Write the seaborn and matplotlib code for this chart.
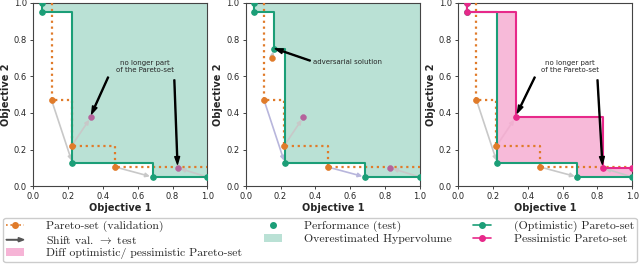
import numpy as np
import pandas as pd
import matplotlib
matplotlib.use('Agg')
import matplotlib.pyplot as plt
import matplotlib.patches as mpatches
from matplotlib.lines import Line2D
from matplotlib.legend_handler import HandlerPatch
import seaborn as sns

#-----------
# DATA
#-----------
# validation pareto-set (orange)
val_x = [0.105, 0.22, 0.47]
val_y = [0.47, 0.22, 0.105]
# same solutions on the test set
test_x = [0.225, 0.33, 0.685]
test_y = [0.125, 0.375, 0.05]
# boundary solutions (bottom-right)
edge_val = (1.0, 0.05)
edge_test = (0.83, 0.1)
# adversarial solution (middle panel)
adv_val = (0.15, 0.70)
adv_test = (0.16, 0.75)

# optimistic pareto-set on test
opt_x = [0.05, 0.05, 0.225, 0.685, 1.0]
opt_y = [1.0, 0.95, 0.125, 0.05, 0.05]
opt_adv_x = [0.05, 0.05, 0.16, 0.225, 0.685, 1.0]
opt_adv_y = [1.0, 0.95, 0.75, 0.125, 0.05, 0.05]
# pessimistic pareto-set on test
pes_x = [0.05, 0.05, 0.33, 0.83, 1.0]
pes_y = [1.0, 0.95, 0.375, 0.1, 0.1]

TEAL = '#1b9e77'
ORANGE = '#e07b2a'
PINK = '#e7298a'
GREY = '#c8c8c8'

#-----------
# HELPERS
#-----------
def _step_at(xs, ys, grid):
  idx = np.searchsorted(xs, grid, side='right') - 1
  idx = np.clip(idx, 0, len(ys) - 1)
  return np.asarray(ys)[idx]

def _val_step(ax):
  xs = [val_x[0]] + val_x + [1.0]
  ys = [1.0] + val_y + [val_y[-1]]
  sns.lineplot(x=xs, y=ys, ax=ax, estimator=None, sort=False, drawstyle='steps-post',
               color=ORANGE, linestyle=':', lw=1.6, zorder=3)
  sns.scatterplot(x=val_x, y=val_y, ax=ax, color=ORANGE, s=18, edgecolor=ORANGE, linewidth=0.5, zorder=6)

def _pareto(ax, xs, ys, color, z=4):
  sns.lineplot(x=xs, y=ys, ax=ax, estimator=None, sort=False, drawstyle='steps-post',
               color=color, lw=1.5, marker='o', markersize=4, markeredgecolor=color, zorder=z)

def _shift(ax, a, b, color=GREY):
  ax.annotate('', xy=b, xytext=a, arrowprops=dict(arrowstyle='-|>', color=color, lw=1.2,
              mutation_scale=6, shrinkA=0, shrinkB=2), zorder=2)

def _black_arrow(ax, tail, tip):
  ax.annotate('', xy=tip, xytext=tail, arrowprops=dict(facecolor='black', edgecolor='black',
              width=0.7, headwidth=3.5, headlength=5.5, shrink=0.0), zorder=8)

def _hv_fill(ax, xs, ys):
  grid = np.linspace(xs[0], 1.0, 2001)
  ax.fill_between(grid, _step_at(xs[1:], ys[1:], grid), 1.0, color=TEAL, alpha=0.3, lw=0, zorder=1)

def _shifts(ax, colors):
  for (vx, vy, tx, ty), c in zip(zip(val_x, val_y, test_x, test_y), colors):
    _shift(ax, (vx, vy), (tx, ty), c)
  _shift(ax, edge_val, edge_test)

class _ArrowHandler(HandlerPatch):
  def create_artists(self, legend, orig_handle, xdescent, ydescent, width, height, fontsize, trans):
    p = mpatches.FancyArrow(0, height / 2, width, 0, length_includes_head=True, width=0.3,
                            head_width=3, head_length=4, color='#555555', transform=trans)
    return [p]

#-----------
# PLOT
#-----------
sns.set_style('ticks')
plt.rcParams['mathtext.fontset'] = 'cm'
fig, axs = plt.subplots(1, 3, figsize=(6.4, 2.66), dpi=100)
fig.subplots_adjust(left=0.052, right=0.988, top=0.989, bottom=0.30, wspace=0.22)

mauve = '#b5639c'

# panel 1
ax = axs[0]
_hv_fill(ax, opt_x, opt_y)
_val_step(ax)
_shifts(ax, [GREY, GREY, GREY])
_pareto(ax, opt_x, opt_y, TEAL)
sns.scatterplot(x=[test_x[1], edge_test[0]], y=[test_y[1], edge_test[1]], ax=ax, color=mauve, s=18,
                edgecolor=mauve, zorder=6)
ax.text(0.64, 0.655, 'no longer part\nof the Pareto-set', fontsize=5, ha='center', va='center')
_black_arrow(ax, (0.43, 0.595), (0.335, 0.395))
_black_arrow(ax, (0.81, 0.58), (0.828, 0.12))

# panel 2
ax = axs[1]
_hv_fill(ax, opt_adv_x, opt_adv_y)
_val_step(ax)
sns.scatterplot(x=[adv_val[0]], y=[adv_val[1]], ax=ax, color=ORANGE, s=18, edgecolor=ORANGE, zorder=6)
lav = '#b8b6dc'
_shifts(ax, [lav, GREY, lav])
_shift(ax, adv_val, adv_test)
_pareto(ax, opt_adv_x, opt_adv_y, TEAL)
sns.scatterplot(x=[test_x[1], edge_test[0]], y=[test_y[1], edge_test[1]], ax=ax, color=mauve, s=18,
                edgecolor=mauve, zorder=6)
ax.text(0.385, 0.68, 'adversarial solution', fontsize=5, ha='left', va='center')
_black_arrow(ax, (0.37, 0.685), (0.17, 0.75))

# panel 3
ax = axs[2]
grid = np.linspace(opt_x[1], 1.0, 2001)
ax.fill_between(grid, _step_at(opt_x[1:], opt_y[1:], grid), _step_at(pes_x[1:], pes_y[1:], grid),
                color=PINK, alpha=0.32, lw=0, zorder=1)
_val_step(ax)
_shifts(ax, [GREY, '#f0b0d0', GREY])
_pareto(ax, opt_x, opt_y, TEAL)
_pareto(ax, pes_x, pes_y, PINK, z=5)
ax.text(0.64, 0.655, 'no longer part\nof the Pareto-set', fontsize=5, ha='center', va='center')
_black_arrow(ax, (0.44, 0.595), (0.34, 0.40))
_black_arrow(ax, (0.80, 0.58), (0.828, 0.12))

ticks = [0.0, 0.2, 0.4, 0.6, 0.8, 1.0]
for ax in axs:
  ax.set_xlim(0, 1)
  ax.set_ylim(0, 1)
  ax.set_xticks(ticks)
  ax.set_yticks(ticks)
  ax.tick_params(labelsize=6, length=2.5, width=0.6, pad=2)
  ax.set_xlabel('Objective 1', fontsize=7, fontweight='bold', labelpad=1)
  ax.set_ylabel('Objective 2', fontsize=7, fontweight='bold', labelpad=2)
  for s in ax.spines.values():
    s.set_linewidth(0.8)
    s.set_color('#444444')

handles = [
  Line2D([], [], color=ORANGE, linestyle=':', marker='o', markersize=4, lw=1.2),
  mpatches.FancyArrow(0, 0, 1, 0),
  mpatches.Patch(color=PINK, alpha=0.35, lw=0),
  Line2D([], [], color=TEAL, linestyle='', marker='o', markersize=4),
  mpatches.Patch(color=TEAL, alpha=0.3, lw=0),
  Line2D([], [], color=TEAL, marker='o', markersize=4, lw=1.2),
  Line2D([], [], color=PINK, marker='o', markersize=4, lw=1.2),
]
labels = [
  'Pareto-set (validation)',
  r'Shift val. $\rightarrow$ test',
  'Diff optimistic/ pessimistic Pareto-set',
  'Performance (test)',
  'Overestimated Hypervolume',
  '(Optimistic) Pareto-set',
  'Pessimistic Pareto-set',
]
fig.legend(handles, labels, ncol=3, loc='upper left', bbox_to_anchor=(0.005, 0.003, 0.99, 0.179),
           mode='expand', prop={'family': 'cmr10', 'size': 8.5}, labelspacing=0.16, handlelength=1.5,
           handletextpad=1.9, handler_map={mpatches.FancyArrow: _ArrowHandler()}, borderaxespad=0.0,
           borderpad=0.25, edgecolor='#cccccc', framealpha=1)

fig.savefig('out.png', dpi=100)
